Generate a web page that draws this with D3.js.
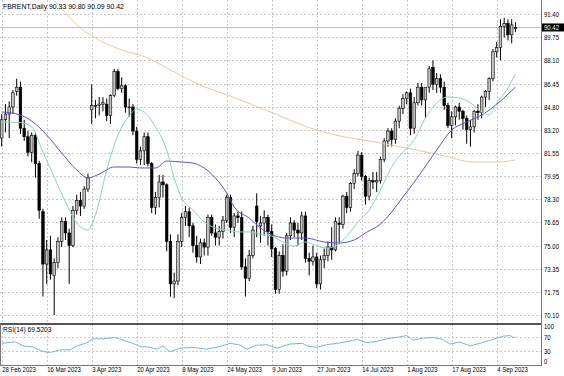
<!DOCTYPE html>
<html>
<head>
<meta charset="utf-8">
<script src="https://cdn.jsdelivr.net/npm/d3@7"></script>
<style>
  body { margin: 0; background: #fff; }
  svg text { font-family: "Liberation Sans", "DejaVu Sans", sans-serif; font-size: 7.5px; fill: #000; }
</style>
</head>
<body>
<div id="wrapper"></div>
<script>
// daily bars, 28 Feb 2023 .. 11 Sep 2023 (index 0..137)
const opens = [
  82.6, 83.9, 84.3, 84.8, 85.9, 86.2, 83.3, 82.7, 81.6, 82.8,
  80.8, 77.4, 73.7, 74.7, 72.9, 73.8, 75.3, 76.7, 75.9, 75.0,
  77.5, 78.2, 77.8, 79.0, 84.6, 84.9, 84.9, 85.0, 85.0, 84.2,
  85.6, 87.3, 86.1, 86.3, 84.8, 84.8, 83.1, 81.1, 81.7, 82.7,
  80.8, 77.7, 78.4, 79.5, 79.3, 75.3, 72.3, 72.5, 75.3, 77.0,
  77.4, 76.4, 75.0, 74.2, 75.2, 74.9, 77.0, 75.9, 75.6, 76.0,
  76.8, 78.4, 76.3, 77.1, 77.0, 73.5, 72.7, 74.3, 77.8, 76.4,
  76.6, 77.0, 76.0, 74.8, 71.9, 74.3, 73.2, 75.7, 76.6, 76.1,
  75.9, 77.1, 74.1, 73.9, 74.2, 72.3, 74.0, 74.3, 74.9, 74.7,
  76.6, 76.5, 78.5, 77.7, 79.4, 80.1, 81.4, 79.9, 78.5, 79.6,
  79.5, 79.6, 81.1, 82.4, 83.1, 82.5, 83.8, 84.7, 85.4, 85.8,
  83.3, 85.1, 86.2, 85.3, 86.2, 87.6, 86.4, 86.8, 86.2, 84.9,
  83.5, 84.1, 84.8, 84.5, 84.0, 83.2, 83.4, 84.5, 84.4, 85.5,
  85.9, 86.8, 88.7, 89.0, 90.5, 90.7, 89.9, 90.33
];
const highs = [
  84.3, 85.0, 85.2, 86.0, 86.8, 86.6, 83.9, 83.1, 83.0, 83.0,
  81.0, 77.6, 75.4, 75.7, 74.1, 75.6, 77.0, 77.0, 76.2, 77.8,
  78.6, 78.8, 79.2, 80.1, 86.4, 85.3, 85.5, 85.5, 85.4, 85.7,
  87.5, 87.5, 86.9, 86.4, 85.4, 85.0, 83.4, 82.0, 83.0, 83.0,
  80.9, 78.8, 80.0, 80.0, 79.4, 75.8, 73.1, 75.8, 77.3, 77.8,
  77.7, 76.6, 75.7, 75.5, 75.5, 77.2, 77.2, 76.5, 76.4, 77.1,
  78.6, 78.6, 77.3, 77.4, 77.4, 74.1, 74.7, 76.4, 78.7, 77.1,
  77.5, 77.2, 76.5, 74.9, 74.6, 75.1, 75.9, 77.0, 76.8, 76.6,
  77.4, 77.4, 74.5, 75.0, 74.5, 74.3, 74.8, 75.3, 76.3, 77.0,
  77.0, 78.6, 78.8, 79.5, 80.4, 81.7, 81.6, 80.0, 79.8, 80.2,
  80.2, 81.3, 82.6, 83.3, 83.3, 84.0, 84.9, 85.7, 85.9, 86.1,
  85.5, 86.5, 86.5, 86.2, 87.7, 88.1, 87.2, 87.1, 86.6, 85.1,
  84.5, 84.9, 85.1, 84.6, 84.2, 83.9, 84.6, 85.0, 85.6, 86.0,
  86.9, 88.9, 89.4, 91.0, 91.1, 91.0, 91.0, 90.80
];
const lows = [
  82.0, 83.0, 82.6, 84.3, 85.6, 82.9, 82.4, 81.3, 80.9, 79.8,
  76.9, 71.4, 72.3, 72.6, 70.1, 73.4, 74.9, 75.4, 72.3, 74.9,
  77.2, 77.1, 77.6, 78.8, 83.6, 84.0, 84.2, 84.5, 83.8, 83.6,
  85.5, 86.0, 85.8, 84.4, 84.1, 82.8, 80.8, 80.7, 80.7, 80.6,
  77.3, 77.2, 77.7, 78.4, 74.6, 71.4, 71.3, 72.2, 74.9, 76.4,
  75.6, 74.5, 73.8, 73.7, 74.3, 74.3, 75.7, 75.0, 75.0, 75.5,
  76.6, 75.9, 75.6, 76.6, 73.3, 71.4, 72.5, 74.1, 75.6, 75.2,
  75.7, 75.0, 74.2, 71.6, 71.6, 72.8, 72.9, 75.4, 75.6, 75.0,
  75.4, 73.8, 72.9, 73.6, 72.0, 71.9, 73.4, 73.9, 74.0, 74.6,
  75.1, 76.2, 77.3, 77.4, 79.0, 79.9, 79.6, 77.9, 78.2, 79.0,
  78.8, 79.4, 80.9, 82.0, 82.0, 82.2, 83.3, 84.3, 85.0, 82.8,
  82.9, 84.9, 84.9, 84.0, 85.8, 86.0, 85.8, 85.8, 84.6, 83.3,
  82.6, 83.5, 83.9, 83.2, 82.2, 82.0, 83.0, 83.9, 84.0, 84.8,
  85.3, 86.6, 88.3, 88.1, 89.7, 89.5, 89.3, 90.09
];
const closes = [
  83.9, 84.3, 84.8, 85.8, 86.2, 83.3, 82.7, 81.6, 82.8, 80.8,
  77.5, 73.7, 74.7, 73.0, 73.8, 75.3, 76.7, 75.9, 75.0, 77.5,
  78.2, 77.8, 79.0, 79.8, 84.9, 84.9, 85.0, 85.1, 84.2, 85.6,
  87.3, 86.1, 86.3, 84.8, 84.8, 83.1, 81.1, 81.7, 82.7, 80.8,
  77.7, 78.4, 79.5, 79.3, 75.3, 72.3, 72.5, 75.3, 77.0, 77.4,
  76.4, 75.0, 74.2, 75.2, 74.9, 77.0, 75.9, 75.6, 76.0, 76.8,
  78.4, 76.3, 77.1, 77.0, 73.5, 72.7, 74.3, 76.1, 76.7, 76.6,
  77.0, 76.0, 74.8, 71.9, 74.3, 73.2, 75.7, 76.6, 76.1, 75.9,
  77.1, 74.1, 73.9, 74.2, 72.3, 74.0, 74.3, 74.9, 74.7, 76.7,
  76.5, 78.5, 77.7, 79.4, 80.1, 81.4, 79.9, 78.5, 79.6, 79.5,
  79.6, 81.1, 82.4, 83.1, 82.5, 83.8, 84.7, 85.4, 85.8, 83.3,
  85.1, 86.2, 85.3, 86.2, 87.5, 86.4, 86.8, 86.2, 84.9, 83.5,
  84.1, 84.8, 84.5, 84.0, 83.2, 83.4, 84.5, 84.4, 85.5, 85.9,
  86.8, 88.7, 89.0, 90.5, 90.7, 89.9, 90.6, 90.42
];

// moving averages as [bar, price]
const maFast = [
  [0, 83.74], [5, 83.7], [8, 83.39], [11, 81.62], [14, 79.85], [17, 78.09],
  [20, 76.6], [23, 76.11], [25, 77.17], [28, 80.35], [31, 82.82], [34, 84.16],
  [36, 84.66], [38, 84.45], [41, 83.39], [44, 81.76], [46, 79.78], [48, 78.37],
  [51, 77.52], [54, 76.67], [57, 76.25], [60, 76.11], [63, 75.97], [66, 75.97],
  [69, 75.82], [72, 75.68], [75, 75.26], [78, 74.98], [81, 75.26], [84, 74.98],
  [87, 74.83], [89, 74.98], [91, 75.4], [93, 75.97], [95, 76.67], [98, 77.52],
  [101, 78.93], [104, 80.56], [107, 81.62], [110, 82.47], [113, 84.02], [116, 85.08],
  [119, 85.51], [122, 85.44], [125, 85.08], [128, 84.45], [130, 84.24], [132, 85.08],
  [135, 86.14], [137, 87.13]
];
const maMid = [
  [0, 84.45], [5, 84.23], [9, 83.6], [12, 82.82], [16, 81.55], [20, 80.35],
  [23, 79.78], [26, 80.06], [30, 80.56], [34, 80.56], [37, 80.49], [41, 80.49],
  [44, 80.98], [48, 80.91], [51, 80.84], [54, 80.49], [57, 79.78], [60, 78.72],
  [62, 77.73], [66, 76.95], [69, 76.25], [73, 75.68], [76, 75.54], [81, 75.54],
  [86, 75.26], [90, 75.19], [94, 75.4], [97, 75.9], [101, 76.53], [104, 77.38],
  [107, 78.44], [111, 79.85], [116, 81.76], [120, 83.17], [124, 83.74], [128, 84.23],
  [133, 85.22], [137, 86.21]
];
const maSlow = [
  [8, 93.4], [14, 92.3], [20, 90.6], [26, 89.53], [32, 88.83], [39, 88.26],
  [44, 87.56], [53, 86.35], [63, 85.37], [73, 84.3], [80, 83.53], [89, 82.82],
  [98, 82.4], [108, 81.9], [117, 81.41], [126, 80.91], [132, 80.91], [137, 81.05]
];
const rsiPoints = [
  [0, 51.9], [3.5, 56.4], [5.7, 44.4], [8.3, 41.7], [11, 28.6], [13, 25.8],
  [15.5, 33.3], [18.2, 33.3], [20, 44.4], [22.7, 53.6], [24.3, 64.7], [27, 64.7],
  [30.2, 68.6], [32.3, 61.1], [35, 51.9], [36.9, 42.5], [39.5, 40.8], [41.4, 35.3],
  [43, 44.4], [44.9, 27.8], [47.5, 38.1], [51, 40.8], [54.7, 35.3], [58.2, 42.5],
  [60.9, 51.9], [63.5, 47.2], [65.4, 35.3], [68, 46.4], [70.7, 48.1], [73.4, 38.1],
  [76.9, 50], [80.3, 51.9], [81.4, 44.4], [84, 40.8], [86.7, 48.1], [89.4, 51.9],
  [92, 56.4], [94.7, 63.1], [97.4, 53.6], [100, 57.5], [102.7, 64.7], [106.2, 70.3],
  [108, 74.2], [109.7, 61.1], [112.3, 66.7], [115, 68.6], [117.7, 63.1], [119.5, 50],
  [122.2, 55.6], [124.9, 44.4], [127.5, 51.9], [131, 63.1], [133.7, 72.2], [135.5, 74.2],
  [136.5, 68.6], [137, 69.52]
];

const priceTicks = [91.40, 89.75, 88.10, 86.45, 84.80, 83.20, 81.55, 79.95, 78.30, 76.65, 75.00, 73.35, 71.75, 70.10];
const rsiTicks = [100, 70, 30, 0];
const tickBars = [0, 12, 24, 36, 48, 60, 72, 84, 96, 108, 120, 132];
const tickLabels = ["28 Feb 2023", "16 Mar 2023", "3 Apr 2023", "20 Apr 2023", "8 May 2023", "24 May 2023",
  "9 Jun 2023", "27 Jun 2023", "14 Jul 2023", "1 Aug 2023", "17 Aug 2023", "4 Sep 2023"];
const lastPrice = 90.42;
const rsiValue = 69.5203;

// the terminal font is narrower than anything installed, so squeeze the glyphs a bit
function squeeze(selection, k) {
  selection.each(function () {
    const w = this.getComputedTextLength();
    d3.select(this).attr("textLength", w * k).attr("lengthAdjust", "spacingAndGlyphs");
  });
}

function drawChart() {
  const dimensions = {
    width: 564,
    height: 376,
    plotRight: 541,
    mainBottom: 324,
    rsiBottom: 365,
  };

  const svg = d3.select("#wrapper").append("svg")
    .attr("width", dimensions.width)
    .attr("height", dimensions.height);

  const xScale = d3.scaleLinear()
    .domain([0, 137])
    .range([1.7, 1.7 + 137 * 3.75]);
  const yScale = d3.scaleLinear()
    .domain([70.10, 91.40])
    .range([315, 13.6]);
  const rsiScale = d3.scaleLinear()
    .domain([0, 100])
    .range([361.5, 326.5]);

  svg.append("clipPath").attr("id", "mainClip")
    .append("rect").attr("x", 0).attr("y", 0)
    .attr("width", dimensions.plotRight).attr("height", dimensions.mainBottom);
  svg.append("clipPath").attr("id", "rsiClip")
    .append("rect").attr("x", 0).attr("y", dimensions.mainBottom + 1)
    .attr("width", dimensions.plotRight).attr("height", dimensions.rsiBottom - dimensions.mainBottom - 1);

  // grid
  const grid = svg.append("g")
    .attr("stroke", "#c8c8c8")
    .attr("stroke-width", 1)
    .attr("stroke-dasharray", "2,2")
    .attr("shape-rendering", "crispEdges");
  grid.selectAll(".hgrid").data(priceTicks).join("line")
    .attr("x1", 0).attr("x2", dimensions.plotRight)
    .attr("y1", d => Math.round(yScale(d)) + 0.5).attr("y2", d => Math.round(yScale(d)) + 0.5);
  grid.selectAll(".rgrid").data([70, 30]).join("line")
    .attr("x1", 0).attr("x2", dimensions.plotRight)
    .attr("y1", d => Math.round(rsiScale(d)) + 0.5).attr("y2", d => Math.round(rsiScale(d)) + 0.5);
  grid.selectAll(".vgrid").data(tickBars).join("line")
    .attr("x1", d => Math.round(xScale(d)) + 0.5).attr("x2", d => Math.round(xScale(d)) + 0.5)
    .attr("y1", 0).attr("y2", dimensions.rsiBottom);

  // bid line
  svg.append("line")
    .attr("x1", 0).attr("x2", dimensions.plotRight)
    .attr("y1", yScale(lastPrice)).attr("y2", yScale(lastPrice))
    .attr("stroke", "#c0c0c0").attr("stroke-width", 1);

  // candles
  const main = svg.append("g").attr("clip-path", "url(#mainClip)");
  const bars = d3.range(closes.length);
  main.selectAll(".wick").data(bars).join("line")
    .attr("x1", i => xScale(i)).attr("x2", i => xScale(i))
    .attr("y1", i => yScale(highs[i])).attr("y2", i => yScale(lows[i]))
    .attr("stroke", "#000").attr("stroke-width", 1);
  main.selectAll(".body").data(bars).join("rect")
    .attr("x", i => xScale(i) - 1.3)
    .attr("width", 2.6)
    .attr("y", i => yScale(Math.max(opens[i], closes[i])))
    .attr("height", i => Math.max(0.8, Math.abs(yScale(opens[i]) - yScale(closes[i]))))
    .attr("fill", i => closes[i] >= opens[i] ? "#c4c4c4" : "#000")
    .attr("stroke", "#000")
    .attr("stroke-width", 0.6);

  // moving averages
  const maLine = d3.line()
    .x(d => xScale(d[0]))
    .y(d => yScale(d[1]))
    .curve(d3.curveMonotoneX);
  main.append("path").attr("d", maLine(maSlow))
    .attr("fill", "none").attr("stroke", "#e3c9a8").attr("stroke-width", 1);
  main.append("path").attr("d", maLine(maMid))
    .attr("fill", "none").attr("stroke", "#5a55c8").attr("stroke-width", 1);
  main.append("path").attr("d", maLine(maFast))
    .attr("fill", "none").attr("stroke", "#8fd0bd").attr("stroke-width", 1);

  // rsi
  const rsiLine = d3.line()
    .x(d => xScale(d[0]))
    .y(d => rsiScale(d[1]));
  svg.append("g").attr("clip-path", "url(#rsiClip)")
    .append("path").attr("d", rsiLine(rsiPoints))
    .attr("fill", "none").attr("stroke", "#79b4e6").attr("stroke-width", 1);

  // frame
  const frame = svg.append("g").attr("fill", "none").attr("shape-rendering", "crispEdges");
  frame.append("line")
    .attr("x1", 0).attr("x2", dimensions.plotRight)
    .attr("y1", dimensions.mainBottom).attr("y2", dimensions.mainBottom)
    .attr("stroke", "#555").attr("stroke-width", 2);
  frame.append("line")
    .attr("x1", 0).attr("x2", dimensions.plotRight + 1)
    .attr("y1", dimensions.rsiBottom + 0.5).attr("y2", dimensions.rsiBottom + 0.5)
    .attr("stroke", "#777").attr("stroke-width", 1);
  frame.append("line")
    .attr("x1", dimensions.plotRight + 0.5).attr("x2", dimensions.plotRight + 0.5)
    .attr("y1", 0).attr("y2", dimensions.rsiBottom + 1)
    .attr("stroke", "#777").attr("stroke-width", 1);
  frame.append("line")
    .attr("x1", 0.5).attr("x2", 0.5)
    .attr("y1", dimensions.mainBottom).attr("y2", dimensions.rsiBottom + 1)
    .attr("stroke", "#777").attr("stroke-width", 1);

  // axes
  const priceAxis = svg.append("g")
    .attr("transform", `translate(${dimensions.plotRight + 1},0)`)
    .call(d3.axisRight(yScale).tickValues(priceTicks).tickFormat(d3.format(".2f")).tickSize(0).tickPadding(2));
  priceAxis.select(".domain").remove();
  priceAxis.selectAll("text").attr("font-size", null).attr("font-family", null).call(squeeze, 0.8);

  const rsiAxis = svg.append("g")
    .attr("transform", `translate(${dimensions.plotRight + 1},0)`)
    .call(d3.axisRight(rsiScale).tickValues(rsiTicks).tickFormat(d3.format("d")).tickSize(0).tickPadding(2));
  rsiAxis.select(".domain").remove();
  rsiAxis.selectAll("text").attr("font-size", null).attr("font-family", null).call(squeeze, 0.8);

  const dateAxis = svg.append("g")
    .attr("transform", `translate(0,${dimensions.rsiBottom})`)
    .call(d3.axisBottom(xScale).tickValues(tickBars).tickFormat((d, i) => tickLabels[i]).tickSize(0).tickPadding(2));
  dateAxis.select(".domain").remove();
  dateAxis.selectAll("text").attr("text-anchor", "start").attr("font-size", null).attr("font-family", null).call(squeeze, 0.8);

  // last price box
  const boxY = yScale(lastPrice);
  svg.append("rect")
    .attr("x", dimensions.plotRight + 1).attr("y", boxY - 4)
    .attr("width", 22).attr("height", 8)
    .attr("fill", "#000");
  svg.append("text")
    .attr("x", dimensions.plotRight + 3).attr("y", boxY + 2.6)
    .style("fill", "#fff")
    .text(d3.format(".2f")(lastPrice))
    .call(squeeze, 0.8);

  // captions
  svg.append("text").attr("x", 3).attr("y", 9)
    .text(`FBRENT,Daily  ${opens[137].toFixed(2)} ${highs[137].toFixed(2)} ${lows[137].toFixed(2)} ${closes[137].toFixed(2)}`)
    .call(squeeze, 0.92);
  svg.append("text").attr("x", 3).attr("y", dimensions.mainBottom + 8)
    .text(`RSI(14) ${rsiValue.toFixed(4)}`)
    .call(squeeze, 0.88);
}

drawChart();
</script>
</body>
</html>
